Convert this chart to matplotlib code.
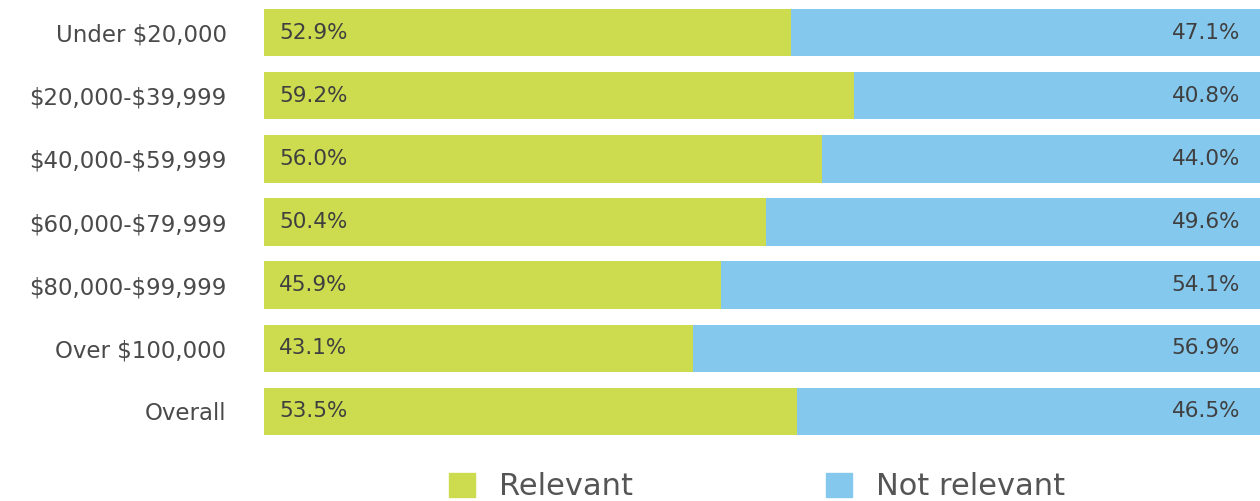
import matplotlib.pyplot as plt
from matplotlib.patches import Patch

groups = ["Under $20,000", "$20,000-$39,999", "$40,000-$59,999", "$60,000-$79,999",
          "$80,000-$99,999", "Over $100,000", "Overall"]
relevant = [52.9, 59.2, 56.0, 50.4, 45.9, 43.1, 53.5]
not_relevant = [47.1, 40.8, 44.0, 49.6, 54.1, 56.9, 46.5]

green = "#CCDC4E"
blue = "#85C8EE"
txt = "#3f3f3f"

plt.rcParams['font.family'] = ['DejaVu Sans']
plt.rcParams['text.parse_math'] = False

fig = plt.figure(figsize=(12.6, 5.01), dpi=100)
ax = fig.add_axes([264 / 1260, 1 - 443 / 501, 1 - 264 / 1260, 442 / 501])

y = list(range(len(groups)))
ax.barh(y, relevant, height=0.75, color=green)
ax.barh(y, not_relevant, left=relevant, height=0.75, color=blue)

for i in y:
    ax.text(1.5, i, f"{relevant[i]:.1f}%", va="center", ha="left", fontsize=15.5, color=txt)
    ax.text(98.0, i, f"{not_relevant[i]:.1f}%", va="center", ha="right", fontsize=15.5, color=txt)

ax.set_xlim(0, 100)
ax.set_ylim(len(groups) - 0.5, -0.5)
ax.set_yticks(y)
ax.set_yticklabels(groups, fontsize=16.5, color="#4a4a4a")
ax.tick_params(axis="y", length=0, pad=27)
ax.set_xticks([])
for s in ax.spines.values():
    s.set_visible(False)

handles = [Patch(color=green, label="Relevant"), Patch(color=blue, label="Not relevant")]
fig.legend(handles=handles, loc="center", bbox_to_anchor=(0.601, 0.028), ncol=2, frameon=False,
           fontsize=22, labelcolor="#555555", handlelength=0.85, handleheight=0.85,
           handletextpad=0.8, columnspacing=6.3, borderpad=0)

fig.savefig("out.png", dpi=100)
